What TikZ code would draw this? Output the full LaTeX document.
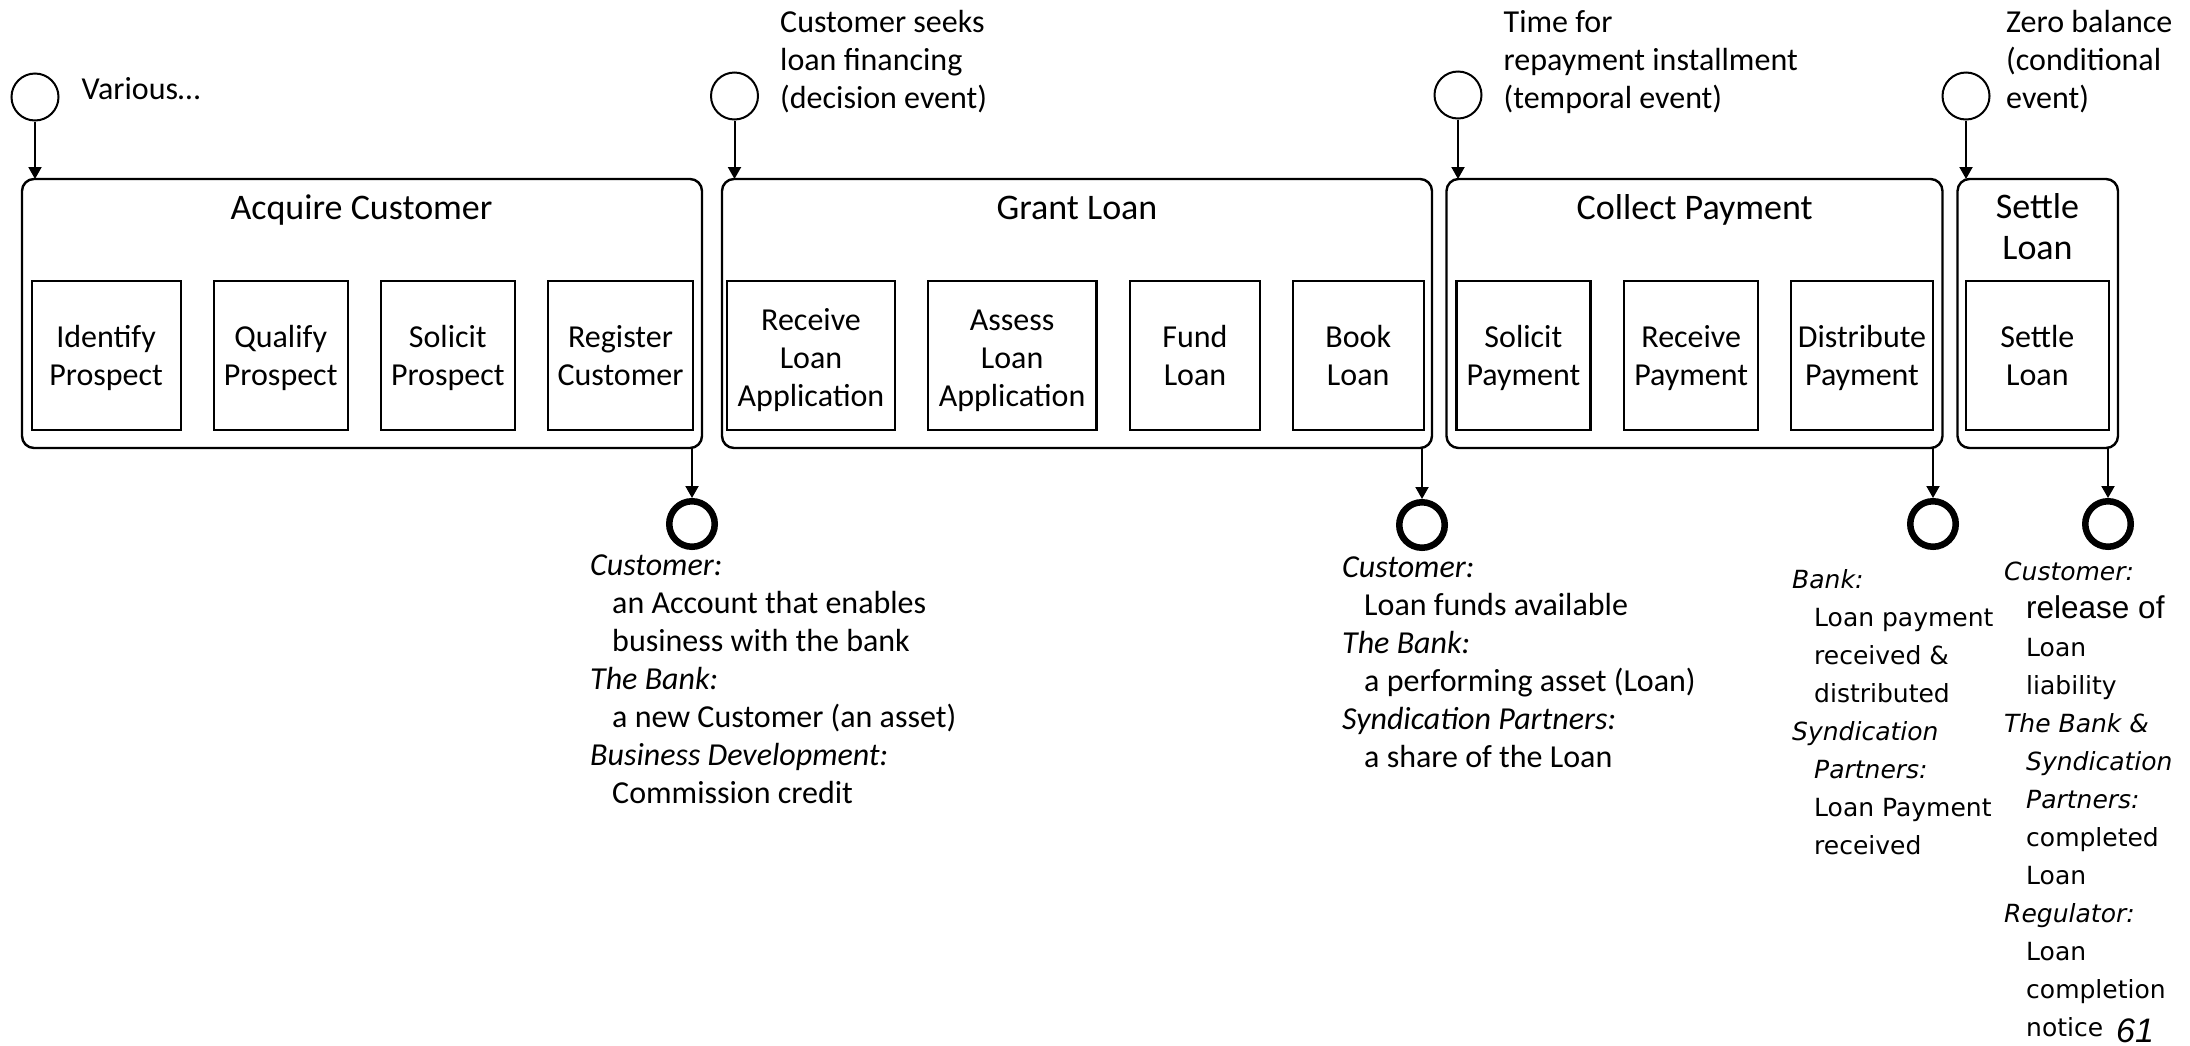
\documentclass[tikz,border=0pt]{standalone}
\usepackage{fontspec}
\setmainfont{Carlito}
\newfontfamily\vfont{DejaVu Sans}
\newfontfamily\afont{Liberation Sans}
\usetikzlibrary{arrows.meta}
\newcommand{\blk}[1]{\begin{tabular}[t]{@{}l@{}}#1\end{tabular}}
\newcommand{\cblk}[1]{\begin{tabular}[t]{@{}c@{}}#1\end{tabular}}
% two- and three-line texts inside the sub-process boxes (first baseline raised above centre)
\newcommand{\stwo}[1]{\raisebox{8pt}[0pt][0pt]{\begin{tabular}[t]{@{}c@{}}#1\end{tabular}}}
\newcommand{\sthree}[1]{\raisebox{25.5pt}[0pt][0pt]{\begin{tabular}[t]{@{}c@{}}#1\end{tabular}}}
\newcommand{\ind}{\hspace*{22pt}}
\begin{document}
\begin{tikzpicture}[x=1pt,y=-1pt,
  cont/.style={draw, line width=2.4pt, rounded corners=12pt, inner sep=0pt, outer sep=0pt},
  sub/.style={draw, line width=2.2pt, inner sep=0pt, outer sep=0pt, minimum height=149pt, font=\fontsize{32}{38}\selectfont},
  startev/.style={draw, circle, line width=2pt, minimum size=47pt, inner sep=0pt},
  endev/.style={draw, circle, line width=6.5pt, minimum size=45.5pt, inner sep=0pt},
  flow/.style={line width=2pt, -{Triangle[length=12pt,width=13pt]}},
  ttl/.style={font=\fontsize{36}{41}\selectfont, anchor=base, inner sep=0pt},
  note/.style={font=\fontsize{32}{38}\selectfont, anchor=base west, inner sep=0pt},
  vnote/.style={font={\vfont\fontsize{25}{38}\selectfont}, anchor=base west, inner sep=0pt}]
\useasboundingbox (0,0) rectangle (2190,1045);

% containers
\node[cont, minimum width=680pt, minimum height=269pt] (c1) at (362,313.5) {};
\node[cont, minimum width=710pt, minimum height=269pt] (c2) at (1077,313.5) {};
\node[cont, minimum width=496pt, minimum height=269pt] (c3) at (1694.5,313.5) {};
\node[cont, minimum width=160.5pt, minimum height=269pt] (c4) at (2037.75,313.5) {};

% titles
\node[ttl] (t1) at (361.5,219) {Acquire Customer};
\node[ttl] (t2) at (1077,219) {Grant Loan};
\node[ttl] (t3) at (1694.7,219) {Collect Payment};
\node[ttl] (t4) at (2037.5,218) {\cblk{Settle\\Loan}};

% sub-processes
\node[sub, minimum width=149pt] (a1) at (106.1,355.5) {\stwo{Identify\\Prospect}};
\node[sub, minimum width=134pt] (a2) at (280.7,355.5) {\stwo{Qualify\\Prospect}};
\node[sub, minimum width=134pt] (a3) at (447.8,355.5) {\stwo{Solicit\\Prospect}};
\node[sub, minimum width=145pt] (a4) at (620.5,355.5) {\stwo{Register\\Customer}};

\node[sub, minimum width=168.6pt] (b1) at (811,355.5) {\sthree{Receive\\Loan\\Application}};
\node[sub, minimum width=168.7pt] (b2) at (1012.1,355.5) {\sthree{Assess\\Loan\\Application}};
\node[sub, minimum width=130pt] (b3) at (1195,355.5) {\stwo{Fund\\Loan}};
\node[sub, minimum width=131pt] (b4) at (1358.2,355.5) {\stwo{Book\\Loan}};

\node[sub, minimum width=134pt] (p1) at (1523.4,355.5) {\stwo{Solicit\\Payment}};
\node[sub, minimum width=134pt] (p2) at (1691.2,355.5) {\stwo{Receive\\Payment}};
\node[sub, minimum width=142pt] (p3) at (1862,355.5) {\stwo{Distribute\\Payment}};

\node[sub, minimum width=143pt] (d1) at (2037.4,355.5) {\stwo{Settle\\Loan}};

% start events
\node[startev] (s1) at (35,97) {};
\node[startev] (s2) at (734.5,96) {};
\node[startev] (s3) at (1458,95) {};
\node[startev] (s4) at (1966,96) {};

\draw[flow] (s1) -- (s1 |- c1.north);
\draw[flow] (s2) -- (s2 |- c2.north);
\draw[flow] (s3) -- (s3 |- c3.north);
\draw[flow] (s4) -- (s4 |- c4.north);

% event texts
\node[note] (n1) at (81.5,99) {Various…};
\node[note] (n2) at (780,32) {\blk{Customer seeks\\loan financing\\(decision event)}};
\node[note] (n3) at (1503.5,32) {\blk{Time for\\repayment installment\\(temporal event)}};
\node[note] (n4) at (2006,32) {\blk{Zero balance\\(conditional\\event)}};

% end events
\node[endev] (e1) at (692,524) {};
\node[endev] (e2) at (1422,525) {};
\node[endev] (e3) at (1933,524) {};
\node[endev] (e4) at (2108,524) {};

\draw[flow] (e1.north |- c1.south) -- (e1.north);
\draw[flow] (e2.north |- c2.south) -- (e2.north);
\draw[flow] (e3.north |- c3.south) -- (e3.north);
\draw[flow] (e4.north |- c4.south) -- (e4.north);

% outcome texts
\node[note] (o1) at (590,575) {\blk{\textit{Customer:}\\\ind an Account that enables\\\ind business with the bank\\\textit{The Bank:}\\\ind a new Customer (an asset)\\\textit{Business Development:}\\\ind Commission credit}};
\node[note] (o2) at (1342,577) {\blk{\textit{Customer:}\\\ind Loan funds available\\\textit{The Bank:}\\\ind a performing asset (Loan)\\\textit{Syndication Partners:}\\\ind a share of the Loan}};
\node[vnote] (o3) at (1792,588) {\blk{\textit{Bank:}\\\ind Loan payment\\\ind received \&\\\ind distributed\\\textit{Syndication}\\\ind\textit{Partners:}\\\ind Loan Payment\\\ind received}};
\node[vnote] (o4) at (2004,580) {\blk{\textit{Customer:}\\\ind{\afont\fontsize{31.5}{38}\selectfont release of}\\\ind Loan\\\ind liability\\\textit{The Bank \&}\\\ind\textit{Syndication}\\\ind\textit{Partners:}\\\ind completed\\\ind Loan\\\textit{Regulator:}\\\ind Loan\\\ind completion\\\ind notice}};
\node[inner sep=0pt, anchor=base west, font={\afont\itshape\fontsize{34}{40}\selectfont}] (pg) at (2116,1042) {61};
\end{tikzpicture}
\end{document}
